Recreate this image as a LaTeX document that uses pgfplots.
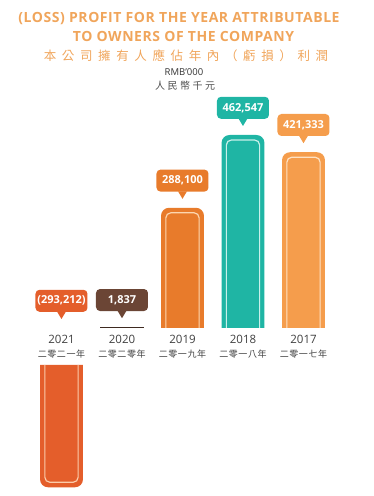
\documentclass[border=0pt]{standalone}
\usepackage{fontspec}
\setmainfont{Open Sans}
\newfontfamily\titlefont[LetterSpace=4]{Open Sans}
\newfontfamily\cjk{Noto Sans CJK TC}
\newfontfamily\cjktitle[LetterSpace=45]{Noto Sans CJK TC}
\newfontfamily\cjkunit[LetterSpace=25]{Noto Sans CJK TC}
\newfontfamily\cjkyear[LetterSpace=6]{Noto Sans CJK TC}
\usepackage{pgfplots}
\pgfplotsset{compat=1.18}
\definecolor{c21}{HTML}{E45E2B}
\definecolor{c20}{HTML}{6B4535}
\definecolor{c20line}{HTML}{3E2A20}
\definecolor{c19}{HTML}{E87B2B}
\definecolor{c18}{HTML}{1FB5A4}
\definecolor{c17}{HTML}{F59D4C}
\definecolor{l21}{HTML}{FBCBAA}
\definecolor{l19}{HTML}{FCD6B0}
\definecolor{l18}{HTML}{C8F0EA}
\definecolor{l17}{HTML}{FEE2C4}
\definecolor{titlec}{HTML}{F0A55B}
\newcommand\callout[4]{%
  \node[fill=#3, rounded corners=4pt, minimum width=52pt, minimum height=22pt,
        text=white, font=\fontsize{11}{13}\selectfont\bfseries, anchor=south, inner sep=0pt]
        (cb) at ([yshift=16pt]axis cs:#1,#2) {#4};
  \fill[#3] ([xshift=-4.5pt,yshift=0.5pt]cb.south) -- ([yshift=-7pt]cb.south) -- ([xshift=4.5pt,yshift=0.5pt]cb.south) -- cycle;}
\begin{document}
\begin{tikzpicture}
\useasboundingbox (0pt,0pt) rectangle (374pt,496pt);
\node[font=\titlefont\fontsize{14}{16}\selectfont\bfseries, text=titlec] at (179pt,477pt) {(LOSS) PROFIT FOR THE YEAR ATTRIBUTABLE};
\node[font=\titlefont\fontsize{14}{16}\selectfont\bfseries, text=titlec] at (183.5pt,460pt) {TO OWNERS OF THE COMPANY};
\node[font=\cjktitle\fontsize{12.5}{14}\selectfont, text=titlec] at (186pt,440pt) {本公司擁有人應佔年內（虧損）利潤};
\node[font=\fontsize{9.5}{11}\selectfont, text=black!80] at (184pt,424pt) {RMB’000};
\node[font=\cjkunit\fontsize{10}{12}\selectfont, text=black!70] at (185pt,410pt) {人民幣千元};

\begin{axis}[
  at={(0pt,168pt)}, anchor=south west, scale only axis, width=374pt, height=193pt,
  xmin=-1.0165, xmax=5.1653, ymin=0, ymax=462547,
  clip=false, axis line style={draw=none}, ytick=\empty,
  xtick={0,1,2,3,4}, major tick length=0pt,
  xticklabels={{2021\\{\cjkyear\fontsize{9}{11}\selectfont 二零二一年}},
               {2020\\{\cjkyear\fontsize{9}{11}\selectfont 二零二零年}},
               {2019\\{\cjkyear\fontsize{9}{11}\selectfont 二零一九年}},
               {2018\\{\cjkyear\fontsize{9}{11}\selectfont 二零一八年}},
               {2017\\{\cjkyear\fontsize{9}{11}\selectfont 二零一七年}}},
  x tick label style={align=center, font=\fontsize{11.5}{13.5}\selectfont, text=black!75, yshift=-4pt},
]
% 2020
\addplot[fill=c20line, draw=c20line, line width=0.5pt] coordinates {(0.645,0) (0.645,1837) (1.355,1837) (1.355,0)};
% 2019
\addplot[draw=none, fill=c19, rounded corners=8pt] coordinates {(1.645,0) (1.645,288100) (2.355,288100) (2.355,0)};
\addplot[draw=l19, line width=1.2pt, rounded corners=5pt] coordinates {(1.725,0) (1.725,276100) (2.275,276100) (2.275,0)};
% 2018
\addplot[draw=none, fill=c18, rounded corners=8pt] coordinates {(2.645,0) (2.645,462547) (3.355,462547) (3.355,0)};
\addplot[draw=l18, line width=1.2pt, rounded corners=5pt] coordinates {(2.725,0) (2.725,450547) (3.275,450547) (3.275,0)};
% 2017
\addplot[draw=none, fill=c17, rounded corners=8pt] coordinates {(3.645,0) (3.645,421333) (4.355,421333) (4.355,0)};
\addplot[draw=l17, line width=1.2pt, rounded corners=5pt] coordinates {(3.725,0) (3.725,409333) (4.275,409333) (4.275,0)};
\callout{0}{0}{c21}{(293,212)}
\callout{1}{1837}{c20}{1,837}
\callout{2}{288100}{c19}{288,100}
\callout{3}{462547}{c18}{462,547}
\callout{4}{421333}{c17}{421,333}
\end{axis}

\begin{axis}[
  at={(0pt,131pt)}, anchor=north west, scale only axis, width=374pt, height=122.3pt,
  xmin=-1.0165, xmax=5.1653, ymin=-293212, ymax=0, hide axis, clip=false]
\addplot[draw=none, fill=c21, rounded corners=8pt] coordinates {(-0.355,0) (-0.355,-293212) (0.355,-293212) (0.355,0)};
\addplot[draw=l21, line width=1.2pt, rounded corners=5pt] coordinates {(-0.275,0) (-0.275,-281212) (0.275,-281212) (0.275,0)};
\end{axis}
\end{tikzpicture}
\end{document}
